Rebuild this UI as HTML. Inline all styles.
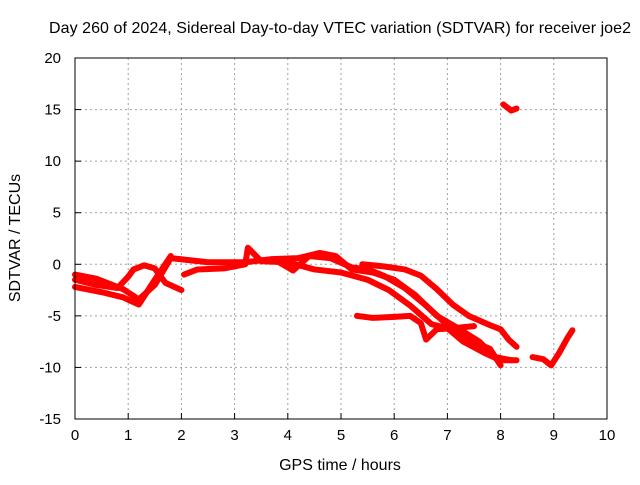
<!DOCTYPE html>
<html><head><meta charset="utf-8"><style>
body{margin:0;background:#fff;}
svg text{font-family:"Liberation Sans",sans-serif;font-size:15px;fill:#000;}
svg text.big{font-size:16px;}
</style></head><body>
<svg id="c" width="640" height="480" xmlns="http://www.w3.org/2000/svg">
<text class="big" x="340" y="33" text-anchor="middle" textLength="582">Day 260 of 2024, Sidereal Day-to-day VTEC variation (SDTVAR) for receiver joe2</text>
<text class="big" x="340" y="470" text-anchor="middle">GPS time / hours</text>
<text class="big" x="20" y="238" text-anchor="middle" transform="rotate(-90 20 238)">SDTVAR / TECUs</text>
<g id="grid"></g><g id="series"></g><g id="axes"></g>
</svg>
<script>
const xTicks=[0,1,2,3,4,5,6,7,8,9,10];
const yTicks=[-15,-10,-5,0,5,10,15,20];
const track1=[[0,-1],[0.4,-1.4],[0.9,-2.4],[1.2,-3.4],[1.5,-2],[1.8,0.6],[2.5,0.2],[3.2,0.2],[3.7,0.5],[4.2,0.6],[4.6,1.1],[4.9,0.8],[5.2,-0.5],[5.6,-0.8],[6,-1.5],[6.4,-3],[6.8,-5],[7.2,-6.2],[7.6,-7.5],[7.9,-9],[8.2,-9.3]];
const track2=[[0,-2.2],[0.5,-2.7],[0.9,-3.2],[1.2,-3.9],[1.5,-1.5],[1.8,0.8]];
const track3=[[0,-1.5],[0.4,-2],[0.8,-2.3],[1.0,-1.2],[1.1,-0.5],[1.3,-0.1],[1.5,-0.4],[1.7,-1.8],[2.0,-2.5]];
const track4=[[2.05,-1],[2.3,-0.5],[2.8,-0.4],[3.2,0],[3.25,1.6],[3.5,0.3],[4,0.2],[4.5,-0.5],[5.0,-0.8],[5.5,-1.5],[5.9,-2.5],[6.3,-4],[6.7,-5.8],[7.0,-6.2],[7.3,-7.5],[7.7,-8.6],[8.0,-9.3],[8.3,-9.3]];
const track5=[[3.8,0.3],[4.1,-0.6],[4.4,0.8],[4.8,0.6],[5.2,-0.3],[5.5,-0.5],[5.8,-1.1],[6.2,-2.3],[6.6,-4],[7.0,-5.9],[7.4,-7.3],[7.8,-8.2],[8.0,-9.8]];
const track6=[[5.4,0],[5.8,-0.2],[6.2,-0.5],[6.5,-1.1],[6.8,-2.4],[7.1,-3.9],[7.4,-5],[7.8,-5.9],[8.0,-6.3],[8.15,-7.3],[8.3,-8]];
const track7=[[5.3,-5],[5.6,-5.2],[6.0,-5.1],[6.3,-5],[6.5,-5.7],[6.6,-7.3],[6.8,-6.3],[7.1,-6.2],[7.5,-6]];
const track8=[[8.6,-9],[8.8,-9.2],[8.95,-9.8],[9.1,-8.6],[9.25,-7.2],[9.35,-6.4]];
const track9=[[8.05,15.5],[8.2,14.9],[8.3,15.1]];
const tracks=[track1,track2,track3,track4,track5,track6,track7,track8,track9];
const X0=75,X1=607,Y0=58,Y1=419;
const sx=v=>X0+(v-0)/(10-0)*(X1-X0);
const sy=v=>Y1-(v+15)/35*(Y1-Y0);
const NS="http://www.w3.org/2000/svg";
function mk(t,a,p){const e=document.createElementNS(NS,t);for(const k in a)e.setAttribute(k,a[k]);p.appendChild(e);return e;}
const grid=document.getElementById('grid'),axes=document.getElementById('axes'),ser=document.getElementById('series');
xTicks.forEach(v=>{const x=sx(v);
 if(v>0&&v<10){const g=mk('line',{x1:x,x2:x,y1:Y0,y2:Y1,stroke:'#a0a0a0','stroke-dasharray':'2,3'},grid);
 }
 const t=mk('line',{x1:x,x2:x,y1:Y1,y2:Y1-6,stroke:'#000'},axes);
 
 const l=mk('text',{x:x,y:Y1+21,'text-anchor':'middle'},axes);l.textContent=v;
 });
yTicks.forEach(v=>{const y=sy(v);
 if(v>-15&&v<20){const g=mk('line',{x1:X0,x2:X1,y1:y,y2:y,stroke:'#a0a0a0','stroke-dasharray':'2,3'},grid);
 }
 const t=mk('line',{x1:X0,x2:X0+6,y1:y,y2:y,stroke:'#000'},axes);
 
 const l=mk('text',{x:X0-14,y:y+5,'text-anchor':'end'},axes);l.textContent=v;
 });
const f=mk('rect',{x:X0,y:Y0,width:X1-X0,height:Y1-Y0,fill:'none',stroke:'#000'},axes);

tracks.forEach(tr=>{const p=mk('polyline',{points:tr.map(d=>sx(d[0])+','+sy(d[1])).join(' '),fill:'none',stroke:'#ff0000','stroke-width':6,'stroke-linejoin':'round','stroke-linecap':'round'},ser);
 });
</script>
</body></html>
